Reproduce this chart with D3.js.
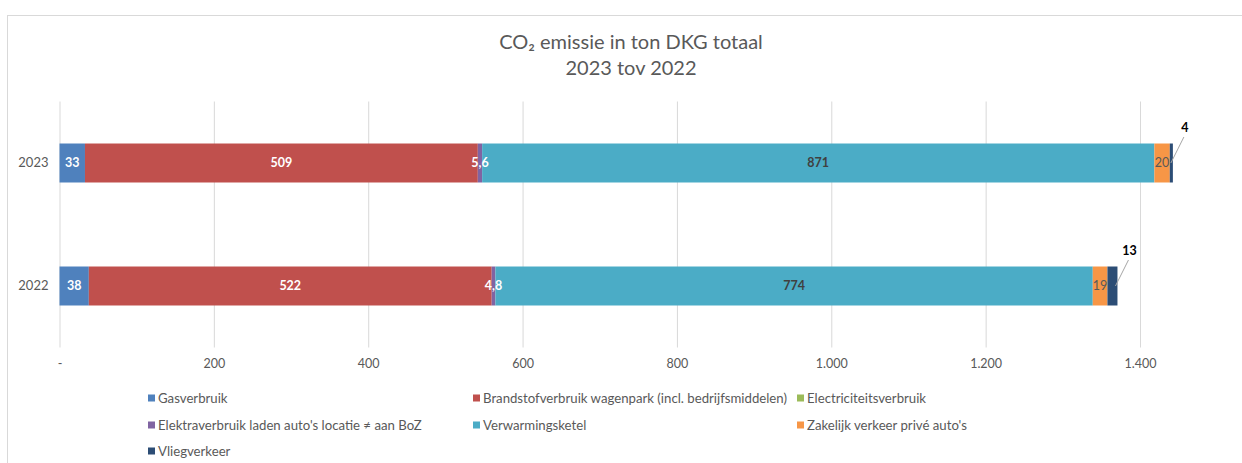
<!DOCTYPE html>
<html>
<head>
<meta charset="utf-8">
<script src="https://cdn.jsdelivr.net/npm/d3@7"></script>
<style>
  html, body { margin: 0; padding: 0; background: #fff; }
  svg { display: block; font-family: Lato, "Open Sans", sans-serif; }
</style>
</head>
<body>
<svg id="chart" width="1242" height="463"></svg>
<script>
// ---- data ----
const years = ["2023", "2022"];
const seriesNames = [
  "Gasverbruik",
  "Brandstofverbruik wagenpark (incl. bedrijfsmiddelen)",
  "Electriciteitsverbruik",
  "Elektraverbruik laden auto's locatie \u2260 aan BoZ",
  "Verwarmingsketel",
  "Zakelijk verkeer privé auto's",
  "Vliegverkeer"
];
const gasverbruik = [33, 38];
const brandstof = [509, 522];
const electriciteit = [0, 0];
const elektraLaden = [5.6, 4.8];
const verwarmingsketel = [871, 774];
const zakelijkVerkeer = [20, 19];
const vliegverkeer = [4, 13];
const xTicks = [0, 200, 400, 600, 800, 1000, 1200, 1400];
const titleLines = ["CO\u2082 emissie in ton DKG totaal", "2023 tov 2022"];

const seriesValues = [gasverbruik, brandstof, electriciteit, elektraLaden, verwarmingsketel, zakelijkVerkeer, vliegverkeer];
const colors = ["#4F81BD", "#C0504D", "#9BBB59", "#8064A2", "#4BACC6", "#F79646", "#2C4D75"];
const labelStyle = [
  {fill: "#fff", weight: 700},
  {fill: "#fff", weight: 700},
  null,
  {fill: "#fff", weight: 700},
  {fill: "#404040", weight: 700},
  {fill: "#595959", weight: 400},
  {fill: "#000", weight: 700, outside: true}
];

const svg = d3.select("#chart");
const W = 1242, H = 463;

svg.append("rect").attr("x", 7.5).attr("y", 15.5).attr("width", W).attr("height", H)
  .attr("fill", "#fff").attr("stroke", "#d9d9d9").attr("stroke-width", 1);

const title = svg.append("text").attr("text-anchor", "middle").attr("fill", "#595959")
  .style("font-size", "20px");
titleLines.forEach((t, i) => {
  title.append("tspan").attr("x", 631).attr("y", 49 + i * 26).text(t);
});

const plotTop = 101.5, plotBottom = 347.5;
const x = d3.scaleLinear().domain([0, 1400]).range([59.5, 1140]);
const y = d3.scaleBand().domain(years).range([plotTop, plotBottom])
  .paddingInner(0.683).paddingOuter(0.3415);

const loc = d3.formatLocale({decimal: ",", thousands: ".", grouping: [3], currency: ["", ""]});
const fmtTick = v => v === 0 ? "-" : loc.format(",")(v);
const fmtVal = loc.format(",~r");

const xAxis = svg.append("g").attr("transform", `translate(0,${plotBottom})`)
  .call(d3.axisBottom(x).tickValues(xTicks).tickFormat(fmtTick)
    .tickSize(-(plotBottom - plotTop)).tickPadding(12));
xAxis.select(".domain").remove();
xAxis.selectAll(".tick line").attr("stroke", "#d9d9d9");
xAxis.selectAll(".tick text").attr("fill", "#595959").style("font-size", "12.5px")
  .style("font-family", "Lato, sans-serif");

const yAxis = svg.append("g").attr("transform", `translate(${x(0)},0)`)
  .call(d3.axisLeft(y).tickSize(0).tickPadding(11));
yAxis.select(".domain").remove();
yAxis.selectAll(".tick text").attr("fill", "#595959").style("font-size", "13px")
  .style("font-family", "Lato, sans-serif");

const rows = years.map((yr, i) => {
  const r = {year: yr};
  seriesNames.forEach((s, j) => r[s] = seriesValues[j][i]);
  return r;
});
const stacked = d3.stack().keys(seriesNames)(rows);

const layers = svg.append("g").selectAll("g").data(stacked).join("g")
  .attr("fill", (d, i) => colors[i]);
layers.selectAll("rect").data(d => d).join("rect")
  .attr("x", d => x(d[0]))
  .attr("y", d => y(d.data.year))
  .attr("width", d => Math.max(0, x(d[1]) - x(d[0])))
  .attr("height", y.bandwidth());

const labG = svg.append("g").style("font-size", "12.5px");
stacked.forEach((layer, i) => {
  const st = labelStyle[i];
  if (!st) return;
  layer.forEach(d => {
    const v = d[1] - d[0];
    const cy = y(d.data.year) + y.bandwidth() / 2;
    if (st.outside) {
      const ex = x(d[1]);
      const lx = ex + 12, ly = cy - 35;
      labG.append("line").attr("x1", ex - 2).attr("y1", cy)
        .attr("x2", lx - 1).attr("y2", ly + 9)
        .attr("stroke", "#a6a6a6").attr("stroke-width", 1);
      labG.append("text").attr("x", lx).attr("y", ly).attr("text-anchor", "middle")
        .attr("dy", "0.35em").attr("fill", st.fill).attr("font-weight", st.weight)
        .text(fmtVal(v));
    } else {
      labG.append("text").attr("x", (x(d[0]) + x(d[1])) / 2).attr("y", cy)
        .attr("text-anchor", "middle").attr("dy", "0.35em")
        .attr("fill", st.fill).attr("font-weight", st.weight)
        .text(fmtVal(v));
    }
  });
});

const legendPos = [[148, 398], [473, 398], [797, 398], [148, 425], [473, 425], [797, 425], [148, 451]];
const lg = svg.append("g").style("font-size", "13.2px");
seriesNames.forEach((s, i) => {
  const [lx, ly] = legendPos[i];
  lg.append("rect").attr("x", lx).attr("y", ly - 3.5).attr("width", 7).attr("height", 7).attr("fill", colors[i]);
  lg.append("text").attr("x", lx + 10).attr("y", ly).attr("dy", "0.35em").attr("fill", "#595959").text(s);
});
</script>
</body>
</html>
